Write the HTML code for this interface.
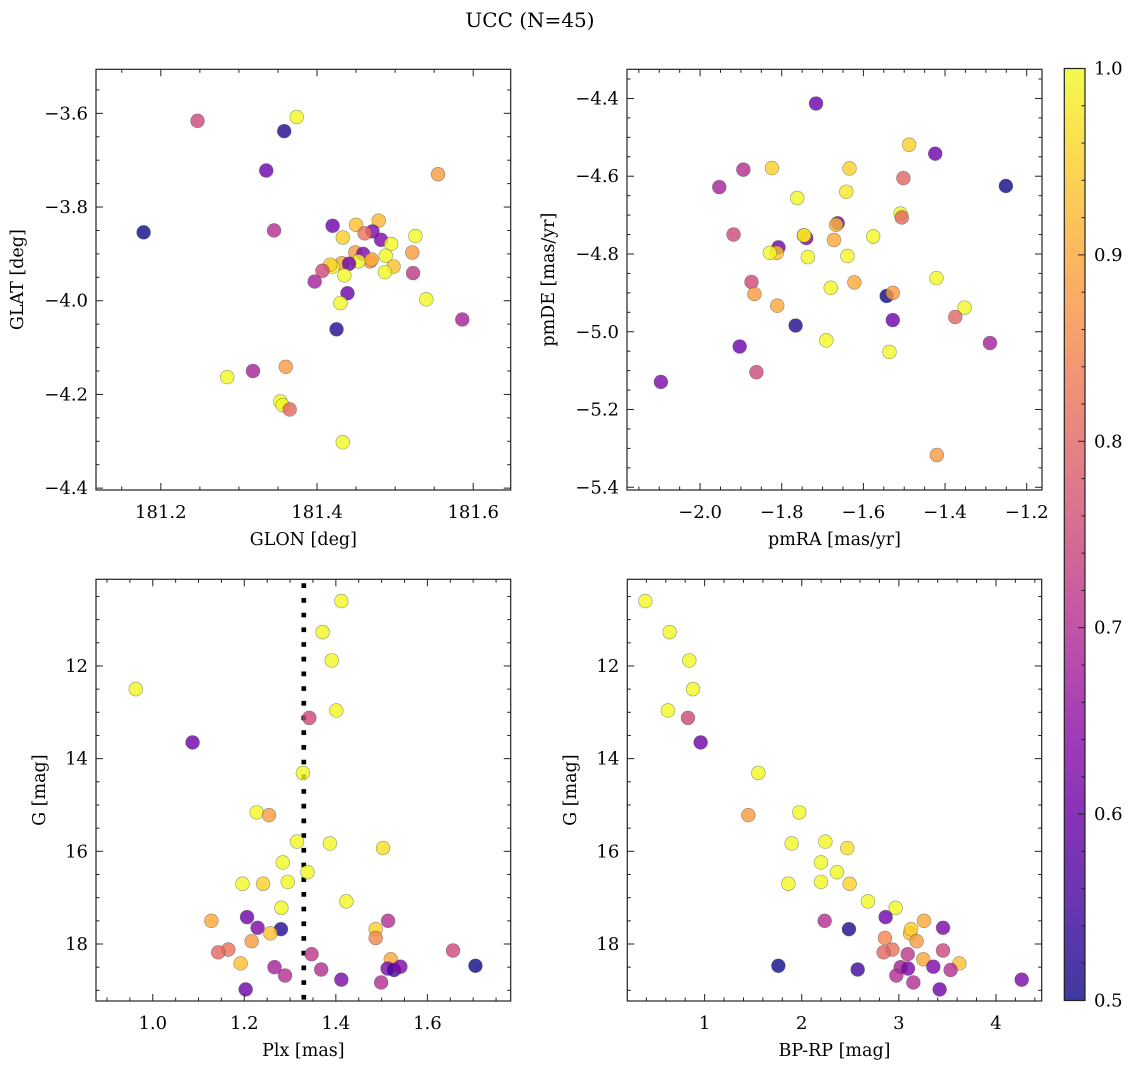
<!DOCTYPE html>
<html><head><meta charset="utf-8">
<style>
html,body{margin:0;padding:0;background:#fff;}
svg{display:block;font-family:"DejaVu Serif","Liberation Serif",serif;}
</style></head>
<body>
<svg id="fig" width="1136" height="1068" viewBox="0 0 1136 1068" xmlns="http://www.w3.org/2000/svg">
<text x="530" y="27" font-size="20" text-anchor="middle">UCC (N=45)</text>
</svg>
<script>
// ---------- data: panel 1 (GLON vs GLAT) ----------
const glon1 = [181.247,181.374,181.358,181.335,181.555,181.178,181.345,181.420,181.450,181.479,181.433,181.471,181.461,181.482,181.526,181.495,181.488,181.522,181.449,181.459,181.468,181.453,181.498,181.432,181.441,181.420,181.417,181.407,181.435,181.487,181.523,181.397,181.439,181.430,181.540,181.586,181.425,181.360,181.318,181.285,181.353,181.356,181.365,181.433,181.470];
const glat1 = [-3.616,-3.608,-3.638,-3.722,-3.730,-3.854,-3.850,-3.840,-3.838,-3.829,-3.865,-3.852,-3.856,-3.870,-3.862,-3.879,-3.904,-3.897,-3.897,-3.900,-3.916,-3.916,-3.927,-3.920,-3.921,-3.927,-3.923,-3.936,-3.946,-3.939,-3.941,-3.959,-3.984,-4.005,-3.997,-4.040,-4.061,-4.141,-4.150,-4.163,-4.215,-4.223,-4.232,-4.302,-3.912];
const prob1 = [0.75,1.0,0.52,0.6,0.88,0.5,0.7,0.6,0.93,0.92,0.95,0.62,0.82,0.62,1.0,1.0,1.0,0.88,0.88,0.62,0.88,1.0,0.93,0.9,0.6,1.0,0.95,0.75,1.0,1.0,0.72,0.68,0.6,1.0,1.0,0.68,0.52,0.88,0.68,1.0,1.0,1.0,0.8,1.0,0.9];
// ---------- data: panel 2 (pmRA vs pmDE) ----------
const pmra2 = [-1.716,-1.488,-1.424,-1.894,-1.824,-1.634,-1.502,-1.251,-1.953,-1.762,-1.642,-1.509,-1.506,-1.663,-1.667,-1.918,-1.740,-1.746,-1.576,-1.672,-1.808,-1.812,-1.829,-1.736,-1.639,-1.874,-1.622,-1.680,-1.421,-1.867,-1.543,-1.528,-1.811,-1.352,-1.375,-1.766,-1.528,-1.691,-1.290,-1.903,-1.536,-1.862,-2.096,-1.420,-1.745];
const pmde2 = [-4.413,-4.519,-4.542,-4.583,-4.579,-4.580,-4.605,-4.625,-4.628,-4.656,-4.640,-4.696,-4.706,-4.721,-4.725,-4.750,-4.759,-4.752,-4.755,-4.764,-4.783,-4.797,-4.797,-4.808,-4.805,-4.872,-4.873,-4.887,-4.862,-4.903,-4.908,-4.900,-4.933,-4.938,-4.962,-4.984,-4.970,-5.022,-5.029,-5.038,-5.052,-5.104,-5.129,-5.317,-4.752];
const prob2 = [0.6,0.95,0.6,0.7,0.95,0.95,0.8,0.5,0.68,1.0,0.98,1.0,0.8,0.6,0.92,0.75,0.62,0.97,1.0,0.9,0.6,0.93,1.0,1.0,1.0,0.75,0.9,1.0,1.0,0.88,0.5,0.88,0.9,1.0,0.8,0.52,0.6,1.0,0.68,0.6,1.0,0.75,0.62,0.88,0.97];
// ---------- data: panel 3 (Plx vs G) ----------
const plx3 = [1.412,1.371,1.391,0.963,1.401,1.342,1.087,1.328,1.227,1.254,1.315,1.387,1.503,1.284,1.338,1.196,1.241,1.295,1.423,1.281,1.206,1.128,1.514,1.229,1.280,1.257,1.487,1.487,1.216,1.165,1.143,1.656,1.347,1.192,1.520,1.266,1.513,1.527,1.541,1.705,1.289,1.368,1.412,1.499,1.203];
const g3 = [10.60,11.27,11.88,12.50,12.96,13.12,13.65,14.31,15.16,15.22,15.79,15.83,15.93,16.24,16.45,16.70,16.70,16.66,17.08,17.22,17.42,17.50,17.50,17.65,17.68,17.77,17.68,17.87,17.94,18.12,18.18,18.14,18.22,18.42,18.33,18.50,18.53,18.56,18.49,18.47,18.68,18.55,18.77,18.83,18.98];
const prob3 = [1.0,1.0,1.0,1.0,1.0,0.75,0.6,1.0,1.0,0.88,1.0,1.0,0.97,1.0,1.0,1.0,0.95,1.0,1.0,1.0,0.6,0.9,0.7,0.62,0.52,0.93,0.95,0.85,0.88,0.82,0.8,0.75,0.72,0.93,0.9,0.68,0.62,0.55,0.62,0.5,0.7,0.7,0.62,0.7,0.6];
const plxLine = 1.33;
// ---------- data: panel 4 (BP-RP vs G) ----------
const bprp4 = [0.389,0.640,0.842,0.880,0.622,0.828,0.959,1.553,1.975,1.450,1.896,2.243,2.469,2.198,2.363,1.862,2.198,2.493,2.682,2.967,2.236,2.864,3.259,2.486,3.115,3.125,3.455,2.857,3.183,2.933,2.843,3.455,3.091,3.623,3.252,1.759,3.019,3.094,3.355,2.576,3.533,2.974,3.149,4.265,3.420];
const g4 = [10.60,11.27,11.88,12.50,12.96,13.12,13.65,14.31,15.16,15.22,15.83,15.79,15.93,16.24,16.45,16.70,16.66,16.70,17.08,17.22,17.50,17.42,17.50,17.68,17.77,17.68,17.65,17.87,17.94,18.12,18.18,18.14,18.22,18.42,18.33,18.47,18.50,18.53,18.49,18.55,18.56,18.68,18.83,18.77,18.98];
const prob4 = [1.0,1.0,1.0,1.0,1.0,0.75,0.6,1.0,1.0,0.88,1.0,1.0,0.97,1.0,1.0,1.0,1.0,0.95,1.0,1.0,0.7,0.6,0.9,0.52,0.93,0.95,0.62,0.85,0.88,0.82,0.8,0.75,0.72,0.93,0.9,0.5,0.68,0.62,0.62,0.55,0.7,0.7,0.7,0.62,0.6];
// tick labels
const ticks1x = [181.2,181.4,181.6], ticks1y = [-3.6,-3.8,-4.0,-4.2,-4.4];
const ticks2x = [-2.0,-1.8,-1.6,-1.4,-1.2], ticks2y = [-4.4,-4.6,-4.8,-5.0,-5.2,-5.4];
const ticks3x = [1.0,1.2,1.4,1.6], ticksGy = [12,14,16,18];
const ticks4x = [1,2,3,4];
const cbTicks = [0.5,0.6,0.7,0.8,0.9,1.0];

const NS = "http://www.w3.org/2000/svg";
const svg = document.getElementById('fig');
function mk(tag, attrs, parent){const e=document.createElementNS(NS,tag);for(const k in attrs)e.setAttribute(k,attrs[k]);(parent||svg).appendChild(e);return e;}
const plasmaStops = ['#0d0887','#41049d','#6a00a8','#8f0da4','#b12a90','#cc4778','#e16462','#f2844b','#fca636','#fcce25','#f0f921'];
function hex(h){return [parseInt(h.slice(1,3),16),parseInt(h.slice(3,5),16),parseInt(h.slice(5,7),16)];}
function plasma(t){t=Math.max(0,Math.min(1,t));const f=t*10,i=Math.min(9,Math.floor(f)),u=f-i;const a=hex(plasmaStops[i]),b=hex(plasmaStops[i+1]);return 'rgb('+a.map((v,k)=>Math.round(v+(b[k]-v)*u)).join(',')+')';}
function cmap(p){return plasma((p-0.5)/0.5);}
function fmt(v,d){const s=Math.abs(v).toFixed(d);return (v<0?'\u2212':'')+s;}

function panel(o){
  const g=mk('g',{});
  
  
  const sx=v=>o.x0+(v-o.xmin)/(o.xmax-o.xmin)*(o.x1-o.x0);
  const sy=v=>o.inv? o.y0+(v-o.ymin)/(o.ymax-o.ymin)*(o.y1-o.y0) : o.y1-(v-o.ymin)/(o.ymax-o.ymin)*(o.y1-o.y0);
  if(o.vline!==undefined){
    const l=mk('line',{x1:sx(o.vline),x2:sx(o.vline),y1:o.y0+4,y2:o.y1,stroke:'#000','stroke-width':4.7,'stroke-dasharray':'4.7 10'},g);
    
    
  }
  for(let i=0;i<o.xs.length;i++){
    const c=mk('circle',{cx:sx(o.xs[i]),cy:sy(o.ys[i]),r:6.9,fill:cmap(o.ps[i]),'fill-opacity':0.8,stroke:'rgba(70,70,70,0.55)','stroke-width':0.6},g);
    
    
  }
  const fr=mk('rect',{x:o.x0,y:o.y0,width:o.x1-o.x0,height:o.y1-o.y0,fill:'none',stroke:'#222','stroke-width':1.2},g);
  
  
  const eps=1e-9;
  for(let v=Math.ceil(o.xmin/o.xminor-eps)*o.xminor; v<=o.xmax+eps; v+=o.xminor){
    const X=sx(v); const major=Math.abs(v/o.xmajor-Math.round(v/o.xmajor))<1e-6; const L=major?7:3.5;
    mk('line',{x1:X,x2:X,y1:o.y1,y2:o.y1-L,stroke:'#222','stroke-width':1},g);
    mk('line',{x1:X,x2:X,y1:o.y0,y2:o.y0+L,stroke:'#222','stroke-width':1},g);
  }
  for(let v=Math.ceil(o.ymin/o.yminor-eps)*o.yminor; v<=o.ymax+eps; v+=o.yminor){
    const Y=sy(v); const major=Math.abs(v/o.ymajor-Math.round(v/o.ymajor))<1e-6; const L=major?7:3.5;
    mk('line',{x1:o.x0,x2:o.x0+L,y1:Y,y2:Y,stroke:'#222','stroke-width':1},g);
    mk('line',{x1:o.x1,x2:o.x1-L,y1:Y,y2:Y,stroke:'#222','stroke-width':1},g);
  }
  for(const v of o.xticks){
    const t=mk('text',{x:sx(v),y:o.y1+28,'font-size':18,'text-anchor':'middle'},g);
    t.textContent=fmt(v,o.xd);
    
    
  }
  for(const v of o.yticks){
    const t=mk('text',{x:o.x0-8,y:sy(v)+6,'font-size':18,'text-anchor':'end'},g);
    t.textContent=fmt(v,o.yd);
    
    
  }
  const xl=mk('text',{x:(o.x0+o.x1)/2,y:o.y1+55,'font-size':17.5,'text-anchor':'middle'},g);
  xl.textContent=o.xlabel;
  
  
  const yl=mk('text',{x:0,y:0,'font-size':17.5,'text-anchor':'middle',transform:'translate('+o.ylx+','+((o.y0+o.y1)/2)+') rotate(-90)'},g);
  yl.textContent=o.ylabel;
  
  
}

panel({name:'glon-glat-panel',x0:96,x1:510.7,y0:69.3,y1:490,xmin:181.117,xmax:181.648,ymin:-4.404,ymax:-3.506,xs:glon1,ys:glat1,ps:prob1,xmajor:0.2,xminor:0.05,ymajor:0.2,yminor:0.05,xticks:ticks1x,yticks:ticks1y,xd:1,yd:1,xlabel:'GLON [deg]',ylabel:'GLAT [deg]',ylx:23});
panel({name:'pm-panel',x0:627,x1:1042,y0:69.3,y1:490,xmin:-2.179,xmax:-1.1625,ymin:-5.407,ymax:-4.325,xs:pmra2,ys:pmde2,ps:prob2,xmajor:0.2,xminor:0.05,ymajor:0.2,yminor:0.05,xticks:ticks2x,yticks:ticks2y,xd:1,yd:1,xlabel:'pmRA [mas/yr]',ylabel:'pmDE [mas/yr]',ylx:554});
panel({name:'plx-g-panel',x0:96,x1:510.7,y0:579.3,y1:1001,xmin:0.876,xmax:1.782,ymin:10.13,ymax:19.23,inv:true,xs:plx3,ys:g3,ps:prob3,vline:plxLine,xmajor:0.2,xminor:0.05,ymajor:2,yminor:0.5,xticks:ticks3x,yticks:ticksGy,xd:1,yd:0,xlabel:'Plx [mas]',ylabel:'G [mag]',ylx:45});
panel({name:'cmd-panel',x0:627.3,x1:1041.7,y0:579.3,y1:1001,xmin:0.2036,xmax:4.471,ymin:10.13,ymax:19.23,inv:true,xs:bprp4,ys:g4,ps:prob4,xmajor:1,xminor:0.2,ymajor:2,yminor:0.5,xticks:ticks4x,yticks:ticksGy,xd:0,yd:0,xlabel:'BP-RP [mag]',ylabel:'G [mag]',ylx:576});

(function(){
  const x0=1064.3,x1=1085,y0=68.5,y1=1000.5;
  const g=mk('g',{});
  
  
  const defs=mk('defs',{},g);
  const lg=mk('linearGradient',{id:'cbg',x1:0,y1:1,x2:0,y2:0},defs);
  for(let i=0;i<=20;i++){mk('stop',{offset:i/20,'stop-color':plasma(i/20),'stop-opacity':0.8},lg);}
  mk('rect',{x:x0,y:y0,width:x1-x0,height:y1-y0,fill:'url(#cbg)',stroke:'#222','stroke-width':1.2},g);
  const sy=v=>y1-(v-0.5)/0.5*(y1-y0);
  for(let k=0;k<=25;k++){const v=0.5+k*0.02;const major=k%5===0;
    mk('line',{x1:x1,x2:x1-(major?7:3.5),y1:sy(v),y2:sy(v),stroke:'#222','stroke-width':1},g);}
  for(const v of cbTicks){
    const t=mk('text',{x:1094,y:sy(v)+6,'font-size':18},g);
    t.textContent=v.toFixed(1);
    
    
  }
})();
</script>
</body></html>
